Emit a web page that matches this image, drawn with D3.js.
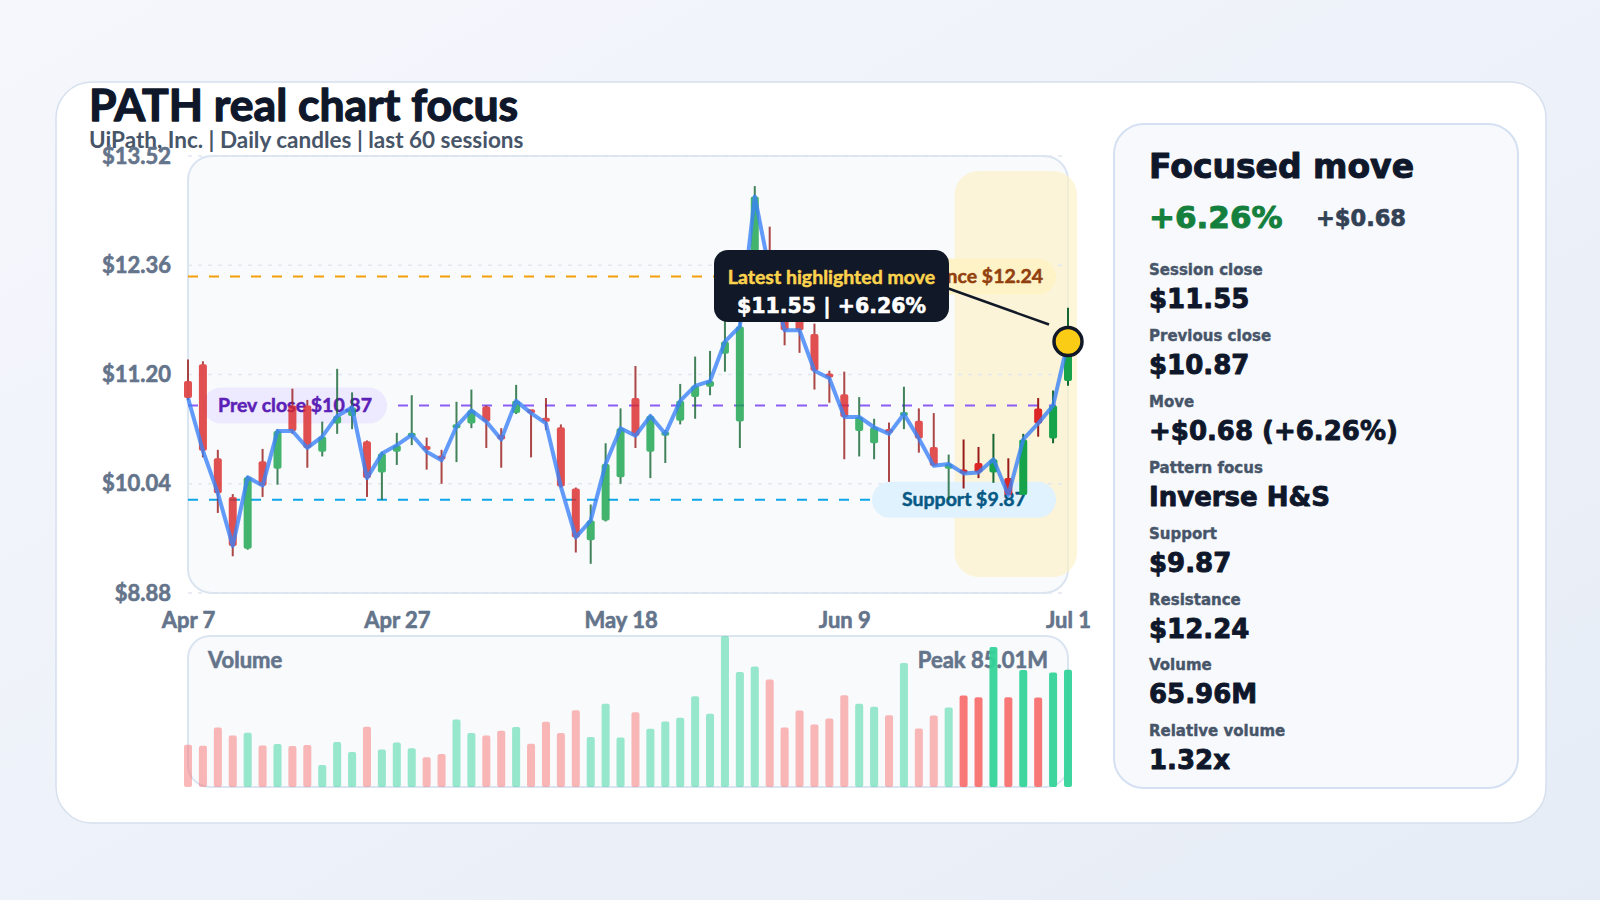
<!DOCTYPE html>
<html>
<head>
<meta charset="utf-8">
<script src="https://cdn.jsdelivr.net/npm/d3@7"></script>
<style>
  html, body { margin: 0; padding: 0; }
  body { width: 1600px; height: 900px; overflow: hidden; background: #eef2f8; }
  text { font-family: Lato, "Noto Sans", sans-serif; font-weight: 700; }
  .heavy { font-family: "DejaVu Sans", sans-serif; font-weight: 700; }
</style>
</head>
<body>
<div id="chart"></div>
<script>
// ---- data ----
const tickLabels = ['Apr 7', 'Apr 27', 'May 18', 'Jun 9', 'Jul 1'];
const tickIndex = [0, 14, 29, 44, 59];
const priceTicks = [8.88, 10.04, 11.2, 12.36, 13.52];

const opens = [11.13, 11.31, 10.31, 9.90, 9.35, 10.28, 10.20, 10.87, 10.87, 10.38,
  10.68, 10.76, 10.49, 10.16, 10.38, 10.52, 10.42, 10.32, 10.63, 10.68,
  10.86, 10.56, 10.79, 10.81, 10.72, 10.64, 9.99, 9.44, 9.65, 10.11,
  10.95, 10.38, 10.55, 10.71, 10.96, 11.07, 11.42, 10.70, 12.10, 12.50,
  11.79, 11.79, 11.63, 11.19, 10.99, 10.60, 10.47, 10.60, 10.75, 10.71,
  10.43, 10.20, 10.17, 10.26, 10.16, 10.10, 9.92, 10.84, 10.52, 11.13];
const highs = [11.36, 11.34, 10.40, 9.93, 10.12, 10.41, 10.62, 11.05, 10.93, 10.70,
  11.26, 11.01, 10.50, 10.38, 10.58, 10.98, 10.53, 10.40, 10.91, 11.04,
  10.87, 10.63, 11.09, 10.82, 10.95, 10.67, 10.00, 9.82, 10.47, 10.84,
  11.29, 10.77, 10.61, 11.10, 11.39, 11.45, 11.80, 11.85, 13.20, 12.77,
  11.90, 11.90, 11.74, 11.24, 11.23, 10.96, 10.73, 10.69, 11.07, 10.84,
  10.79, 10.35, 10.51, 10.43, 10.57, 10.31, 10.57, 10.95, 11.03, 11.91];
const lows = [10.93, 10.32, 9.73, 9.27, 9.34, 9.90, 10.03, 10.57, 10.21, 10.33,
  10.57, 10.62, 9.90, 9.87, 10.24, 10.45, 10.19, 10.04, 10.27, 10.63,
  10.42, 10.21, 10.78, 10.32, 10.61, 10.00, 9.31, 9.19, 9.64, 10.04,
  10.42, 10.10, 10.26, 10.67, 10.73, 10.98, 11.23, 10.42, 11.95, 12.10,
  11.51, 11.43, 11.04, 10.90, 10.30, 10.33, 10.30, 10.06, 10.62, 10.37,
  10.23, 9.87, 9.99, 10.10, 10.05, 9.92, 9.92, 10.54, 10.47, 11.08];
const closes = [10.95, 10.39, 9.94, 9.38, 10.11, 10.02, 10.60, 10.60, 10.42, 10.54,
  10.76, 10.85, 10.10, 10.36, 10.45, 10.56, 10.38, 10.29, 10.65, 10.82,
  10.70, 10.51, 10.92, 10.79, 10.68, 10.01, 9.47, 9.65, 10.25, 10.63,
  10.55, 10.76, 10.57, 10.92, 11.08, 11.13, 11.55, 11.71, 13.09, 12.29,
  11.67, 11.67, 11.24, 11.16, 10.75, 10.75, 10.64, 10.57, 10.78, 10.52,
  10.23, 10.25, 10.15, 10.16, 10.30, 9.92, 10.51, 10.68, 10.87, 11.55];
// volume in millions
const volumes = [23.77, 23.21, 33.55, 29.05, 30.51, 23.43, 24.16, 23.04, 23.60, 12.36,
  25.29, 19.67, 33.88, 21.18, 25.12, 21.75, 16.69, 18.54, 38.04, 30.34,
  29.05, 31.64, 33.71, 24.33, 36.69, 30.34, 43.27, 28.10, 46.81, 27.93,
  42.14, 32.76, 36.92, 38.94, 51.13, 41.19, 85.01, 64.79, 67.82, 60.52,
  33.55, 43.10, 35.23, 38.60, 51.69, 46.81, 45.12, 40.46, 69.84, 32.98,
  40.29, 44.78, 51.53, 50.57, 78.83, 50.57, 65.91, 50.40, 64.45, 65.96];

const support = 9.87;
const resistance = 12.24;
const prevClose = closes[closes.length - 2];
const relVolume = 1.32;
const pattern = 'Inverse H&S';
const focusStart = 52; // first session of the highlighted window

// ---- layout ----
const W = 1600, H = 900;
const plot = { left: 188, right: 1068, top: 156, bottom: 593 };
const vol = { top: 636, bottom: 787 };
const n = closes.length;
const last = n - 1;

const x = d3.scaleLinear().domain([0, last]).range([plot.left, plot.right]);
const y = d3.scaleLinear().domain([priceTicks[0], priceTicks[priceTicks.length - 1]]).range([plot.bottom, plot.top]);
const yv = d3.scaleLinear().domain([0, d3.max(volumes)]).range([vol.bottom, vol.top]);

const UP = '#16a34a', DOWN = '#dc2626';
const UP_WICK = '#166534', DOWN_WICK = '#991b1b';
const fmt$ = (v) => '$' + v.toFixed(2);

// thicken a text a little by stroking it with its own fill colour
const ink = (sel, w) => sel.attr('stroke', function () { return this.getAttribute('fill'); })
  .attr('stroke-width', w).attr('stroke-linejoin', 'round');

const svg = d3.select('#chart').append('svg').attr('width', W).attr('height', H);

// background + card
const defs = svg.append('defs');
const bg = defs.append('linearGradient').attr('id', 'bg').attr('x1', 0).attr('y1', 0).attr('x2', 1).attr('y2', 1);
bg.append('stop').attr('offset', 0).attr('stop-color', '#f5f7fc');
bg.append('stop').attr('offset', 1).attr('stop-color', '#e6ecf6');
svg.append('rect').attr('width', W).attr('height', H).attr('fill', 'url(#bg)');

svg.append('rect')
  .attr('x', 56).attr('y', 82).attr('width', 1490).attr('height', 741).attr('rx', 36)
  .attr('fill', '#ffffff').attr('stroke', '#d7e0ee').attr('stroke-width', 1.5);

svg.append('text')
  .attr('x', 89).attr('y', 121)
  .attr('font-size', 44.5).attr('font-weight', 900).attr('fill', '#0f172a')
  .text('PATH real chart focus')
  .call(ink, 1.3);
svg.append('text')
  .attr('x', 89).attr('y', 148)
  .attr('font-size', 22.5).attr('fill', '#475569')
  .text('UiPath, Inc. | Daily candles | last 60 sessions');

/***** PRICE PANEL *****/
svg.append('rect')
  .attr('x', plot.left).attr('y', plot.top)
  .attr('width', plot.right - plot.left).attr('height', plot.bottom - plot.top).attr('rx', 24)
  .attr('fill', '#f8fafc').attr('stroke', '#dbe4f1').attr('stroke-width', 2);

// focus window band
svg.append('rect')
  .attr('x', x(focusStart) - 9).attr('y', plot.top + 15)
  .attr('width', x(last) - x(focusStart) + 18).attr('height', plot.bottom - plot.top - 31).attr('rx', 24)
  .attr('fill', '#fdf1c4').attr('opacity', 0.65);

// grid
svg.append('g').selectAll('line').data(priceTicks).join('line')
  .attr('x1', plot.left).attr('x2', plot.right)
  .attr('y1', (d) => y(d)).attr('y2', (d) => y(d))
  .attr('stroke', '#e2e8f0').attr('stroke-width', 1.5).attr('stroke-dasharray', '4 6');

// axes
const yAxis = svg.append('g').attr('transform', `translate(${plot.left},0)`)
  .call(d3.axisLeft(y).tickValues(priceTicks).tickFormat(fmt$).tickSize(0).tickPadding(17));
const xAxis = svg.append('g').attr('transform', `translate(0,${plot.bottom})`)
  .call(d3.axisBottom(x).tickValues(tickIndex).tickFormat((d, i) => tickLabels[i]).tickSize(0).tickPadding(19));
[yAxis, xAxis].forEach((g) => {
  g.select('.domain').remove();
  g.selectAll('text')
    .attr('font-family', 'Lato, sans-serif').attr('font-size', 22).attr('font-weight', 700).attr('fill', '#64748b')
    .call(ink, 0.6);
});

// reference levels
const levels = [
  { value: resistance, label: `Resistance ${fmt$(resistance)}`, color: '#f59e0b', pill: '#fef3c7', ink: '#92400e', px: 872 },
  { value: prevClose, label: `Prev close ${fmt$(prevClose)}`, color: '#8b5cf6', pill: '#ede9fe', ink: '#5b21b6', px: 203 },
  { value: support, label: `Support ${fmt$(support)}`, color: '#0ea5e9', pill: '#e0f2fe', ink: '#075985', px: 872 },
];
const lv = svg.append('g').selectAll('g').data(levels).join('g');
lv.append('line')
  .attr('x1', plot.left).attr('x2', plot.right - 12)
  .attr('y1', (d) => y(d.value)).attr('y2', (d) => y(d.value))
  .attr('stroke', (d) => d.color).attr('stroke-width', 2).attr('stroke-dasharray', '10 11');
lv.append('rect')
  .attr('x', (d) => d.px).attr('y', (d) => y(d.value) - 18)
  .attr('width', 184).attr('height', 36).attr('rx', 18)
  .attr('fill', (d) => d.pill);
lv.append('text')
  .attr('x', (d) => d.px + 92).attr('y', (d) => y(d.value) + 6.5)
  .attr('text-anchor', 'middle').attr('font-size', 19.5)
  .attr('fill', (d) => d.ink)
  .text((d) => d.label)
  .call(ink, 0.5);

// candles
const candles = svg.append('g').selectAll('g').data(closes).join('g')
  .attr('opacity', (d, i) => (i >= focusStart ? 1 : 0.8));
candles.append('line')
  .attr('x1', (d, i) => x(i)).attr('x2', (d, i) => x(i))
  .attr('y1', (d, i) => y(highs[i])).attr('y2', (d, i) => y(lows[i]))
  .attr('stroke', (d, i) => (d >= opens[i] ? UP_WICK : DOWN_WICK))
  .attr('stroke-width', 2);
candles.append('rect')
  .attr('x', (d, i) => x(i) - 4).attr('width', 8).attr('rx', 2)
  .attr('y', (d, i) => Math.min(y(d), y(opens[i])) - (Math.abs(y(d) - y(opens[i])) < 4 ? 2 : 0))
  .attr('height', (d, i) => Math.max(4, Math.abs(y(d) - y(opens[i]))))
  .attr('fill', (d, i) => (d >= opens[i] ? UP : DOWN));

// close line
svg.append('path')
  .datum(closes)
  .attr('d', d3.line().x((d, i) => x(i)).y((d) => y(d)))
  .attr('fill', 'none').attr('stroke', '#3b82f6').attr('stroke-opacity', 0.8)
  .attr('stroke-width', 4).attr('stroke-linejoin', 'round');

// callout for the latest move
const move = closes[last] - prevClose;
const movePct = (move / prevClose) * 100;
const mx = x(last), my = y(closes[last]);
const tip = { x: mx - 354, y: 250, w: 235, h: 72 };

svg.append('line')
  .attr('x1', tip.x + tip.w - 2).attr('y1', tip.y + 38)
  .attr('x2', mx - 19).attr('y2', my - 17)
  .attr('stroke', '#111827').attr('stroke-width', 2.5);
svg.append('rect')
  .attr('x', tip.x).attr('y', tip.y).attr('width', tip.w).attr('height', tip.h).attr('rx', 14)
  .attr('fill', '#111827');
svg.append('text')
  .attr('x', tip.x + tip.w / 2).attr('y', tip.y + 34)
  .attr('text-anchor', 'middle').attr('font-size', 19.5).attr('fill', '#fcd34d')
  .text('Latest highlighted move')
  .call(ink, 0.5);
svg.append('text').attr('class', 'heavy')
  .attr('x', tip.x + tip.w / 2).attr('y', tip.y + 63)
  .attr('text-anchor', 'middle').attr('font-size', 20.5).attr('fill', '#ffffff')
  .text(`${fmt$(closes[last])} | +${movePct.toFixed(2)}%`)
  .call(ink, 0.6);
svg.append('circle')
  .attr('cx', mx).attr('cy', my).attr('r', 14)
  .attr('fill', '#facc15').attr('stroke', '#111827').attr('stroke-width', 3.5);

/***** VOLUME PANEL *****/
svg.append('rect')
  .attr('x', plot.left).attr('y', vol.top)
  .attr('width', plot.right - plot.left).attr('height', vol.bottom - vol.top).attr('rx', 22)
  .attr('fill', '#f8fafc').attr('stroke', '#dbe4f1').attr('stroke-width', 2);
svg.append('text')
  .attr('x', 208).attr('y', 668)
  .attr('font-size', 22).attr('fill', '#64748b')
  .text('Volume')
  .call(ink, 0.6);
svg.append('text')
  .attr('x', 1048).attr('y', 668).attr('text-anchor', 'end')
  .attr('font-size', 22).attr('fill', '#64748b')
  .text(`Peak ${d3.max(volumes).toFixed(2)}M`)
  .call(ink, 0.6);
svg.append('g').selectAll('rect').data(volumes).join('rect')
  .attr('x', (d, i) => x(i) - 4).attr('width', 8).attr('rx', 2)
  .attr('y', (d) => yv(d)).attr('height', (d) => vol.bottom - yv(d))
  .attr('fill', (d, i) => (closes[i] >= opens[i] ? '#34d399' : '#f87171'))
  .attr('opacity', (d, i) => (i >= focusStart ? 0.95 : 0.5));

/***** SIDE PANEL *****/
const side = svg.append('g');
side.append('rect')
  .attr('x', 1114).attr('y', 124).attr('width', 404).attr('height', 664).attr('rx', 30)
  .attr('fill', '#f7f9fd').attr('stroke', '#d5e1f2').attr('stroke-width', 2);
side.append('text').attr('class', 'heavy')
  .attr('x', 1149).attr('y', 178).attr('font-size', 33).attr('fill', '#0f172a')
  .text('Focused move')
  .call(ink, 1);
side.append('text').attr('class', 'heavy')
  .attr('x', 1149).attr('y', 228).attr('font-size', 31).attr('fill', '#15803d')
  .text(`+${movePct.toFixed(2)}%`)
  .call(ink, 1);
side.append('text').attr('class', 'heavy')
  .attr('x', 1316).attr('y', 226).attr('font-size', 22.5).attr('fill', '#334155')
  .text(`+${fmt$(move)}`)
  .call(ink, 0.7);

const statLabels = ['Session close', 'Previous close', 'Move', 'Pattern focus', 'Support', 'Resistance', 'Volume', 'Relative volume'];
const statValues = [
  fmt$(closes[last]), fmt$(prevClose), `+${fmt$(move)} (+${movePct.toFixed(2)}%)`, pattern,
  fmt$(support), fmt$(resistance), `${volumes[last].toFixed(2)}M`, `${relVolume.toFixed(2)}x`,
];
const rows = side.selectAll('g.row').data(statLabels).join('g').attr('class', 'row')
  .attr('transform', (d, i) => `translate(1149,${275 + i * 65.9})`);
rows.append('text').attr('class', 'heavy')
  .attr('font-size', 15).attr('fill', '#475569')
  .text((d) => d)
  .call(ink, 0.4);
rows.append('text').attr('class', 'heavy')
  .attr('y', 33).attr('font-size', 26).attr('fill', '#0f172a')
  .text((d, i) => statValues[i])
  .call(ink, 0.9);
</script>
</body>
</html>
